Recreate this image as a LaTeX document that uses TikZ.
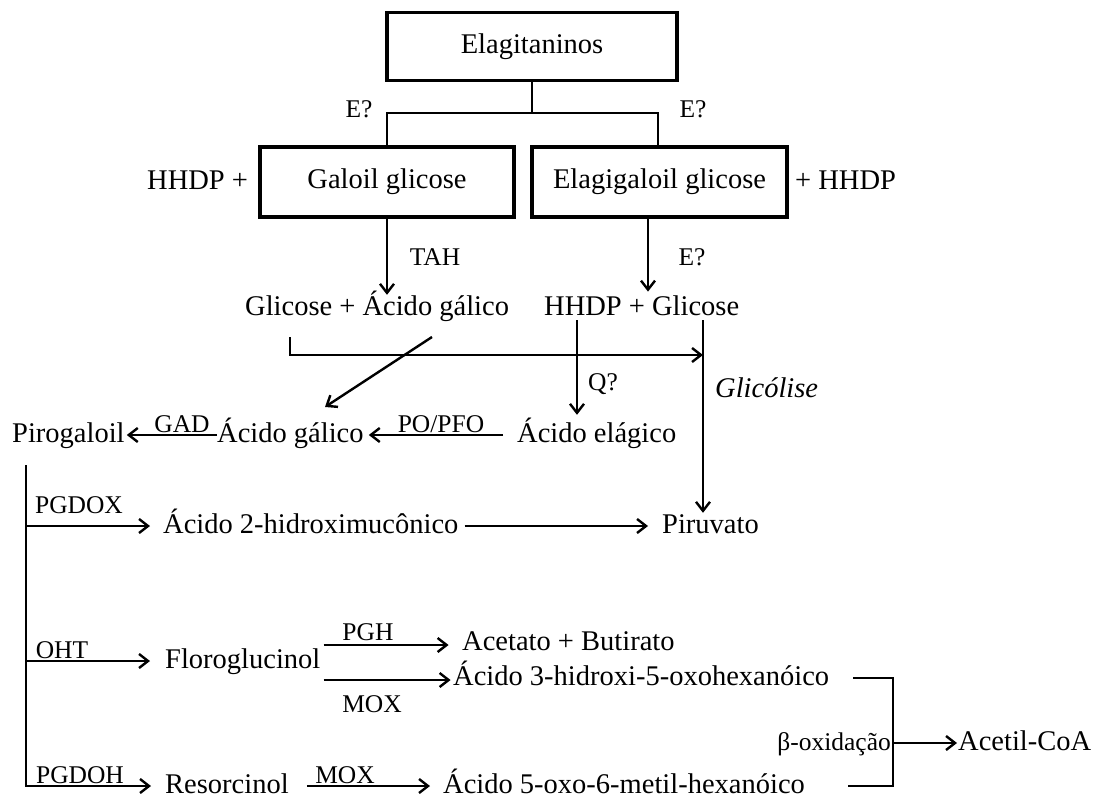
\documentclass[tikz,border=0pt]{standalone}
\usepackage{fontspec}
\setmainfont{Liberation Serif}
\usetikzlibrary{arrows.meta}

\begin{document}
\begin{tikzpicture}[
    x=1pt, y=-1pt,
    box/.style  = {draw, line width=3.2pt, minimum height=68pt,
                   font=\fontsize{28.5}{34}\selectfont},
    txt/.style  = {inner sep=0pt, text height=20pt, text depth=6pt, anchor=west,
                   font=\fontsize{28.5}{34}\selectfont},
    lab/.style  = {inner sep=0pt, text height=18pt, text depth=5.5pt,
                   font=\fontsize{25.5}{30}\selectfont},
    arr/.style  = {-{Straight Barb[length=9pt,width=14pt]}, line width=2.4pt},
    lin/.style  = {line width=2.4pt},
    tree/.style = {line width=1.8pt},
  ]
  \useasboundingbox (0,0) rectangle (1099,799);

  % boxes
  \node[box, minimum width=290pt] (elag) at (532,46.5) {Elagitaninos};
  \node[box, minimum width=254pt, minimum height=70pt] (galoil) at (387,182) {Galoil glicose};
  \node[box, minimum width=255pt, minimum height=70pt] (elagigal) at (659.5,182) {Elagigaloil glicose};
  \node[txt] (hhdpl) at (147,183) {HHDP +};
  \node[txt] (hhdpr) at (795,183) {+ HHDP};
  \node[lab] (e1) at (359,111) {E?};
  \node[lab] (e2) at (693,111) {E?};

  % hydrolysis products
  \node[txt] (glicgal) at (245,308) {Glicose + Ácido gálico};
  \node[txt] (hhdpgli) at (544,308) {HHDP + Glicose};
  \node[lab] (tah) at (435,259) {TAH};
  \node[lab] (e3)  at (692,259) {E?};

  \node[txt] (pirog)   at (12,435)  {Pirogaloil};
  \node[txt] (galico)  at (217,435) {Ácido gálico};
  \node[txt] (elagico) at (517,435) {Ácido elágico};
  \node[lab] (qq) at (603,384) {Q?};
  \node[txt, font=\fontsize{28.5}{34}\selectfont\itshape] (glicol) at (715,390) {Glicólise};
  \node[lab] (gad)   at (182,426) {GAD};
  \node[lab] (popfo) at (441,426) {PO/PFO};

  % pyrogallol degradation
  \node[txt] (hidrox)   at (163,526) {Ácido 2-hidroximucônico};
  \node[txt] (piruv)    at (662,526) {Piruvato};
  \node[txt] (florog)   at (165,661) {Floroglucinol};
  \node[txt] (acet)     at (462,643) {Acetato + Butirato};
  \node[txt] (hidroxi3) at (453,678) {Ácido 3-hidroxi-5-oxohexanóico};
  \node[txt] (resorc)   at (165,786) {Resorcinol};
  \node[txt] (oxo5)     at (443,786) {Ácido 5-oxo-6-metil-hexanóico};
  \node[txt] (acetil)   at (958,743) {Acetil-CoA};
  \node[lab] (pgdox) at (79,507)  {PGDOX};
  \node[lab] (oht)   at (62,652)  {OHT};
  \node[lab] (pgh)   at (368,634) {PGH};
  \node[lab] (mox1)  at (372,706) {MOX};
  \node[lab] (pgdoh) at (80,777)  {PGDOH};
  \node[lab] (mox2)  at (345,777) {MOX};
  \node[lab, anchor=east] (betaox) at (891,744) {β-oxidação};

  \coordinate (split) at (532,113);
  \coordinate (gstart) at (290,337);
  \coordinate (gjoin) at (703,355);
  \coordinate (gtop) at (703,320);
  \coordinate (hdown) at (577,320);
  \coordinate (dstart) at (432,337);
  \coordinate (dend) at (325,407);
  \coordinate (ptop) at (26,465);
  \coordinate (bmid) at (893,743);

  \draw[tree] (elag.south) -- (split);
  \draw[tree] (galoil.north) |- (split) -| ([xshift=-1.5pt]elagigal.north);
  \draw[arr] (galoil.south) -- (galoil.south |- glicgal.north);
  \draw[arr] ([xshift=-11.5pt]elagigal.south) -- ++(0,73);

  \draw[arr] (gstart) |- (gjoin);
  \draw[arr] (gtop) -- (gtop |- piruv.north);
  \draw[arr, shorten >=7pt] (hdown) -- (hdown |- elagico.north);
  \draw[arr] (dstart) -- (dend);
  \draw[arr, shorten <=14pt, shorten >=5pt] (elagico.west) -- (galico.east);
  \draw[arr, shorten >=2pt] (galico.west) -- (pirog.east);

  \draw[arr, shorten >=14pt] (ptop) |- (resorc.west);
  \draw[arr, shorten >=13pt] (ptop |- hidrox.west) -- (hidrox.west);
  \draw[arr, shorten >=15pt] (ptop |- florog.west) -- (florog.west);
  \draw[arr, shorten <=6pt, shorten >=14pt] (hidrox.east) -- (piruv.west);
  \draw[arr] ([shift={(3pt,16pt)}]florog.east) -- ++(125,0);
  \draw[arr] ([shift={(3pt,-19pt)}]florog.east) -- ++(127,0);
  \draw[arr, shorten <=18pt, shorten >=13pt] (resorc.east) -- (oxo5.west);

  \draw[lin] ([xshift=24pt]hidroxi3.east) -| (bmid) |- ([xshift=43pt]oxo5.east);
  \draw[arr, shorten >=1pt] (bmid) -- (acetil.west);
\end{tikzpicture}
\end{document}
